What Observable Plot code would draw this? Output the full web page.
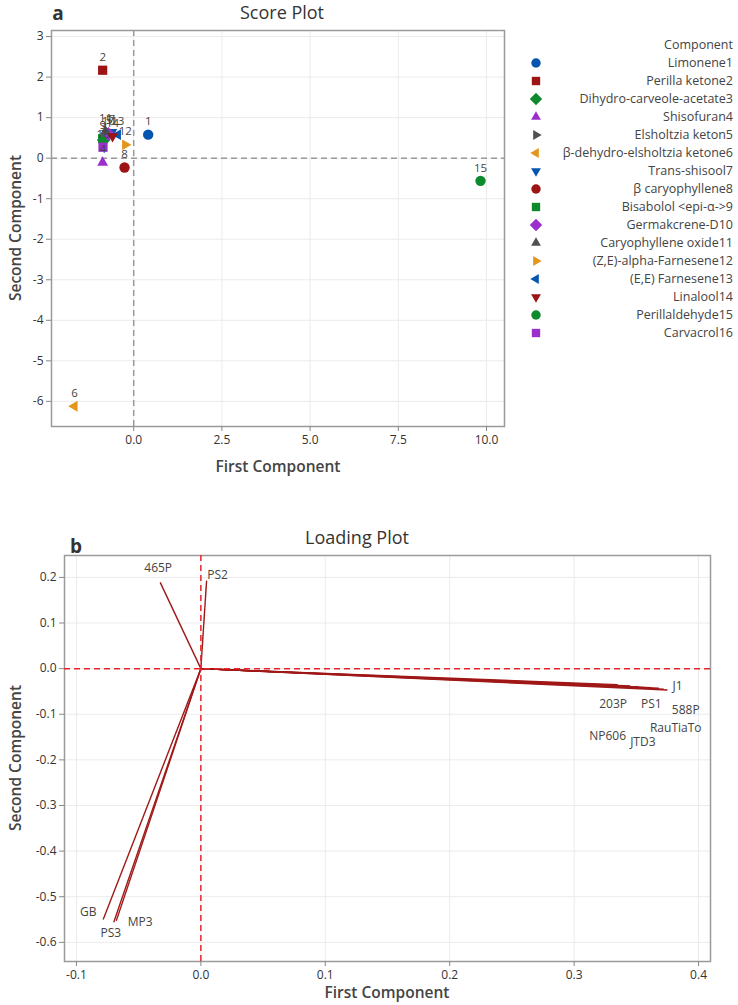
<!DOCTYPE html>
<html><head><meta charset="utf-8">
<script src="https://cdn.jsdelivr.net/npm/d3@7"></script>
<script src="https://cdn.jsdelivr.net/npm/@observablehq/plot@0.6"></script>
<style>
body{margin:0;background:#fff;font-family:"Open Sans","Noto Sans",sans-serif;}
#page{position:relative;width:738px;height:1005px;overflow:hidden;background:#fff;}
#page svg{position:absolute;left:0;}
.abs{position:absolute;white-space:nowrap;color:#333;line-height:1;}
.c{transform:translate(-50%,-50%);}
.lg{position:absolute;right:5px;font-size:12.5px;color:#444;white-space:nowrap;line-height:1;transform:translateY(-50%);}
</style></head><body><div id="page"></div>
<script>
// ---------- data ----------
const components = ["Limonene1","Perilla ketone2","Dihydro-carveole-acetate3","Shisofuran4","Elsholtzia keton5","β-dehydro-elsholtzia ketone6","Trans-shisool7","β caryophyllene8","Bisabolol <epi-α->9","Germakcrene-D10","Caryophyllene oxide11","(Z,E)-alpha-Farnesene12","(E,E) Farnesene13","Linalool14","Perillaldehyde15","Carvacrol16"];
const pointLabels = ["1","2","3","4","5","6","7","8","9","10","11","12","13","14","15","16"];
const pc1 = [0.41, -0.88, -0.85, -0.88, -0.70, -1.68, -0.62, -0.26, -0.88, -0.72, -0.80, -0.24, -0.45, -0.60, 9.83, -0.87];
const pc2 = [0.58, 2.17, 0.45, -0.11, 0.62, -6.12, 0.64, -0.23, 0.48, 0.60, 0.66, 0.33, 0.58, 0.54, -0.56, 0.27];

const loadingNames = ["465P","PS2","GB","PS3","MP3","NP606","203P","JTD3","PS1","RauTiaTo","588P","J1"];
const loadingPC1 = [-0.0327, 0.0046, -0.0785, -0.070, -0.068, 0.335, 0.345, 0.352, 0.362, 0.368, 0.372, 0.375];
const loadingPC2 = [0.189, 0.193, -0.550, -0.556, -0.553, -0.035, -0.038, -0.040, -0.042, -0.043, -0.045, -0.047];

const scoreXTicks = [0, 2.5, 5, 7.5, 10];
const scoreYTicks = [-6, -5, -4, -3, -2, -1, 0, 1, 2, 3];
const loadXTicks = [-0.1, 0, 0.1, 0.2, 0.3, 0.4];
const loadYTicks = [-0.6, -0.5, -0.4, -0.3, -0.2, -0.1, 0, 0.1, 0.2];

// ---------- styles ----------
const FONT = "'Open Sans','Noto Sans',sans-serif";
const S3 = Math.sqrt(3);
function tri(dir) {
  return {draw(ctx, size) {
    const h = Math.sqrt(size * 0.6 / (S3 * 3));
    const p = {
      up: [[0, -2*h], [-S3*h, h], [S3*h, h]],
      down: [[0, 2*h], [-S3*h, -h], [S3*h, -h]],
      right: [[2*h, 0], [-h, -S3*h], [-h, S3*h]],
      left: [[-2*h, 0], [h, -S3*h], [h, S3*h]]
    }[dir];
    ctx.moveTo(p[0][0], p[0][1]); ctx.lineTo(p[1][0], p[1][1]); ctx.lineTo(p[2][0], p[2][1]); ctx.closePath();
  }};
}
const diamond = {draw(ctx, size) {
  const r = Math.sqrt(size * 1.1 / 2);
  ctx.moveTo(0, -r); ctx.lineTo(r, 0); ctx.lineTo(0, r); ctx.lineTo(-r, 0); ctx.closePath();
}};
const symCycle = [d3.symbolCircle, d3.symbolSquare, diamond, tri("up"), tri("right"), tri("left"), tri("down")];
const colCycle = ["#0656B0", "#9C1414", "#0E8A2E", "#9A2FCB", "#505050", "#E2961C"];
const symbols = components.map((_, i) => symCycle[i % 7]);
const palette = components.map((_, i) => colCycle[i % 6]);

const page = document.getElementById("page");
function addText(txt, x, y, css, cls = "abs c") {
  const d = document.createElement("div");
  d.className = cls; d.textContent = txt;
  d.style.left = x + "px"; d.style.top = y + "px";
  Object.assign(d.style, css);
  page.appendChild(d);
  return d;
}

// ---------- Score plot ----------
const scoreData = components.map((c, i) => ({name: c, label: pointLabels[i], x: pc1[i], y: pc2[i]}));
const fmt1 = d => d.toFixed(1);
const scorePlot = Plot.plot({
  width: 738, height: 500,
  marginLeft: 51, marginRight: 234, marginTop: 30, marginBottom: 74,
  style: {fontFamily: FONT, fontSize: "12px", color: "#333", background: "transparent"},
  x: {domain: [-2.33, 10.51], label: null},
  y: {domain: [-6.62, 3.15], label: null},
  color: {domain: components, range: palette},
  symbol: {domain: components, range: symbols},
  marks: [
    Plot.gridX(scoreXTicks, {stroke: "#ebebeb", strokeOpacity: 1}),
    Plot.gridY(scoreYTicks, {stroke: "#ebebeb", strokeOpacity: 1}),
    Plot.ruleX([0], {stroke: "#9a9a9a", strokeWidth: 1.5, strokeDasharray: "6,4"}),
    Plot.ruleY([0], {stroke: "#9a9a9a", strokeWidth: 1.5, strokeDasharray: "6,4"}),
    Plot.frame({stroke: "#9a9a9a", strokeWidth: 1.5}),
    Plot.axisX(scoreXTicks, {tickFormat: fmt1, tickSize: 5, tickPadding: 4, stroke: "#888", fill: "#333", fontSize: 12, label: null}),
    Plot.axisY(scoreYTicks, {tickFormat: d => String(d), tickSize: 5, tickPadding: 3, stroke: "#888", fill: "#333", fontSize: 12, label: null}),
    Plot.dot(scoreData, {x: "x", y: "y", fill: "name", symbol: "name", r: 5.2}),
    Plot.text(scoreData, {x: "x", y: "y", text: "label", dy: -13, fill: "#444", fontSize: 11.5})
  ]
});
scorePlot.style.top = "0px";
page.appendChild(scorePlot);

addText("a", 58, 13, {fontSize: "19px", fontWeight: "700", color: "#333"});
addText("Score Plot", 282, 12, {fontSize: "18px", color: "#333"});
addText("First Component", 278, 467, {fontSize: "15.5px", fontWeight: "600", color: "#444"});
addText("Second Component", 16, 228, {fontSize: "15.5px", fontWeight: "600", color: "#444", transform: "translate(-50%,-50%) rotate(-90deg)"});

// legend
const lgHead = document.createElement("div");
lgHead.className = "lg"; lgHead.textContent = "Component"; lgHead.style.top = "45px";
page.appendChild(lgHead);
components.forEach((c, i) => {
  const y = 62.5 + i * 18;
  const t = document.createElement("div");
  t.className = "lg"; t.textContent = c; t.style.top = y + "px";
  page.appendChild(t);
  const s = d3.create("svg").attr("width", 14).attr("height", 14)
    .style("left", "529px").style("top", (y - 7) + "px").style("position", "absolute");
  s.append("path").attr("transform", "translate(7,7)")
    .attr("d", d3.symbol(symbols[i], 70)()).attr("fill", palette[i]);
  page.appendChild(s.node());
});

// ---------- Loading plot ----------
const loadData = loadingNames.map((n, i) => ({name: n, x: loadingPC1[i], y: loadingPC2[i]}));
const labelOffset = {
  "465P": [-2, -14], "PS2": [11, -5], "GB": [-15, -7], "PS3": [-3, 11], "MP3": [24, 1],
  "NP606": [-10, 52], "203P": [-17, 18], "JTD3": [4, 55], "PS1": [0, 16],
  "RauTiaTo": [17, 40], "588P": [22, 21], "J1": [10, -4]
};
const loadPlot = Plot.plot({
  width: 738, height: 495,
  marginLeft: 64, marginRight: 28, marginTop: 45, marginBottom: 44,
  style: {fontFamily: FONT, fontSize: "12px", color: "#333", background: "transparent"},
  x: {domain: [-0.1096, 0.4096], label: null},
  y: {domain: [-0.642, 0.248], label: null},
  marks: [
    Plot.gridX(loadXTicks, {stroke: "#ebebeb", strokeOpacity: 1}),
    Plot.gridY(loadYTicks, {stroke: "#ebebeb", strokeOpacity: 1}),
    Plot.frame({stroke: "#9a9a9a", strokeWidth: 1.5}),
    Plot.axisX(loadXTicks, {tickFormat: fmt1, tickSize: 5, tickPadding: 4, stroke: "#888", fill: "#333", fontSize: 12, label: null}),
    Plot.axisY(loadYTicks, {tickFormat: fmt1, tickSize: 5, tickPadding: 3, stroke: "#888", fill: "#333", fontSize: 12, label: null}),
    Plot.link(loadData, {x1: () => 0, y1: () => 0, x2: "x", y2: "y", stroke: "#A01818", strokeWidth: 1.4}),
    Plot.ruleX([0], {stroke: "#E8242A", strokeWidth: 1.5, strokeDasharray: "6,4"}),
    Plot.ruleY([0], {stroke: "#E8242A", strokeWidth: 1.5, strokeDasharray: "6,4"}),
    ...loadData.map(d => Plot.text([d], {x: "x", y: "y", text: "name", dx: labelOffset[d.name][0], dy: labelOffset[d.name][1], fill: "#444", fontSize: 12}))
  ]
});
loadPlot.style.top = "510px";
page.appendChild(loadPlot);

addText("b", 76, 546, {fontSize: "19px", fontWeight: "700", color: "#333"});
addText("Loading Plot", 357, 537, {fontSize: "18px", color: "#333"});
addText("First Component", 387, 993, {fontSize: "15.5px", fontWeight: "600", color: "#444"});
addText("Second Component", 16, 758, {fontSize: "15.5px", fontWeight: "600", color: "#444", transform: "translate(-50%,-50%) rotate(-90deg)"});
</script></body></html>
